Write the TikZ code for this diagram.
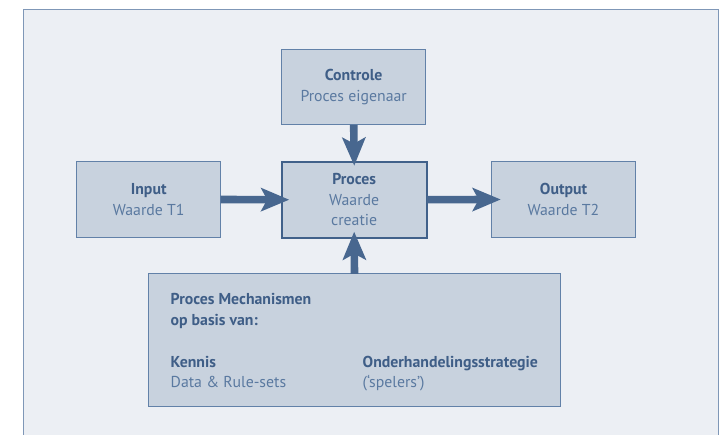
\documentclass[tikz,border=0pt]{standalone}
\usepackage{fontspec}
\setmainfont{PT Sans}[Numbers=OldStyle]
\usetikzlibrary{arrows.meta}

\definecolor{panel fill color}{HTML}{ECEFF4}
\definecolor{panel border color}{HTML}{7F97B7}
\definecolor{block fill color}{HTML}{C8D2DE}
\definecolor{block border color}{HTML}{6281A8}
\definecolor{main border color}{HTML}{41618A}
\definecolor{arrow color}{HTML}{48678F}
\definecolor{title text color}{HTML}{3F5E87}
\definecolor{body text color}{HTML}{5A79A0}

\newcommand{\blocktitle}[1]{{\bfseries\color{title text color}#1}}

\tikzset{
    x={1pt},
    y={-1pt},
    panel/.style={
        fill=panel fill color,
        draw=none,
    },
    panel border/.style={
        draw=panel border color,
        line width={1pt},
    },
    block/.style={
        rectangle, fill=block fill color,
        draw=block border color,
        line width={1pt},
        inner sep=0pt, outer sep=0pt,
        minimum width={144},
        minimum height={75.6},
        align=center,
        text=body text color,
        font={\fontsize{15.8}{20.7}\selectfont},
    },
    main block/.style={
        block,
        draw=main border color,
        line width={2pt},
        minimum width={145},
        minimum height={76},
    },
    block line/.style={
        anchor=base west,
        inner sep=0pt, outer sep=0pt,
        text=body text color,
        font={\fontsize{15.8}{20.7}\selectfont},
    },
    title line/.style={
        block line,
        text=title text color,
        font={\fontsize{15.8}{20.7}\selectfont\bfseries},
    },
    flow/.style={
        draw=arrow color,
        line width={7.6pt},
        -{Stealth[length=28pt,width=23pt,inset=6pt]},
        shorten >={-#1},
    },
    flow/.default={6pt},
}

\begin{document}
\begin{tikzpicture}
\useasboundingbox (0,0) rectangle (720,435);
% background
\path[panel] (23,10) rectangle (718,435);
\path[panel border] (23,435) -- (23,10) -- (718,10) -- (718,435);
% blocks
\node[block] (input) at (148.7,199.5) {\blocktitle{Input}\\Waarde T1};
\node[main block] (proces) at (354.2,199.7) {\blocktitle{Proces}\\Waarde\\creatie};
\node[block, minimum width={143.6}] (output) at (563.5,199.5) {\blocktitle{Output}\\Waarde T2};
\node[block, minimum height={75.7}] (controle) at (353.7,87) {\blocktitle{Controle}\\Proces eigenaar};
\node[block, minimum width={412.4}, minimum height={132.7}] (mech) at (354.5,340.3) {};
% mechanism texts
\node[title line] (mech title) at (170.7,305) {Proces Mechanismen};
\node[title line] (mech subtitle) at (170.7,326) {op basis van:};
\node[title line] (kennis) at (170.7,367) {Kennis};
\node[block line] (kennis text) at (170.7,387.5) {Data \& Rule-sets};
\node[title line] (strategie) at (362.7,367) {Onderhandelingsstrategie};
\node[block line] (strategie text) at (362.7,387.5) {(‘spelers’)};
% arrows
\draw[flow={7.5pt}] (input.east) -- (proces.west);
\draw[flow={9pt}] (proces.east) -- (output.west);
\draw[flow={4pt}] (controle.south) -- (proces.north);
\draw[flow={6pt}] (mech.north) -- (proces.south);
\end{tikzpicture}
\end{document}
